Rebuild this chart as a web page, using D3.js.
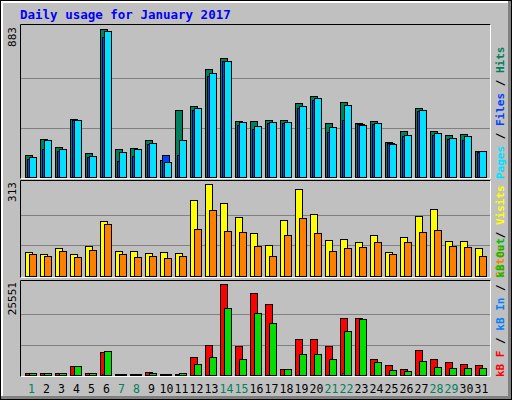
<!DOCTYPE html>
<html>
<head>
<meta charset="utf-8">
<script src="https://cdn.jsdelivr.net/npm/d3@7"></script>
<style>
  body { margin: 0; background: #fff; }
  svg { display: block; font-family: "DejaVu Sans Mono", monospace; }
</style>
</head>
<body>
<svg id="chart" width="512" height="400"></svg>
<script>
// values
var days = d3.range(1, 32);
var weekendDays = [1, 7, 8, 14, 15, 21, 22, 28, 29];
var hits  = [130,226,178,346,142,883,166,172,220,100,400,424,647,707,334,334,340,340,442,484,322,448,322,334,208,274,412,274,250,256,154];
var files = [118,220,166,340,124,869,148,166,202,88,220,412,623,695,328,304,328,328,424,472,298,430,310,322,196,250,400,262,232,244,154];
var pages = [106,166,154,340,118,833,94,124,196,130,130,400,605,695,310,286,322,322,412,461,268,340,316,316,202,244,394,250,226,220,148];
var visits = [82,75,95,75,102,187,85,85,78,82,78,259,313,248,201,146,105,191,296,211,122,126,116,139,82,133,204,228,119,119,95];
var sites  = [75,68,85,65,88,177,75,65,68,61,68,160,225,153,150,102,68,139,197,146,85,95,99,116,75,116,150,156,102,99,68];
var kbF   = [562,562,562,2527,562,6458,281,281,842,281,281,5054,8424,25551,8143,23026,19937,1685,10109,10109,8143,16006,16006,4493,2808,1685,7020,4493,3650,3089,2808];
var kbIn  = [0,0,0,0,0,400,0,0,0,0,0,0,0,0,0,0,0,0,0,0,0,500,0,0,0,0,0,0,0,0,0];
var kbOut = [562,562,562,2527,562,6739,281,281,562,281,562,3089,5054,18814,4493,17410,14602,1685,5897,5897,4493,12355,15725,3650,1404,1123,3931,2246,1966,1966,1966];

var svg = d3.select("#chart");

// bevelled outer frame
svg.append("rect").attr("width", 512).attr("height", 400).attr("fill", "#000");
svg.append("rect").attr("x", 1).attr("y", 1).attr("width", 510).attr("height", 398).attr("fill", "#808080");
svg.append("rect").attr("x", 1).attr("y", 1).attr("width", 507).attr("height", 395).attr("fill", "#fff");
svg.append("rect").attr("x", 3).attr("y", 3).attr("width", 505).attr("height", 393).attr("fill", "#c0c0c0");

svg.append("text").attr("x", 20).attr("y", 19)
  .attr("fill", "#0000ff").attr("font-size", 12.5).attr("font-weight", "bold")
  .text("Daily usage for January 2017");

var x = d3.scaleBand().domain(days).range([21, 486]).paddingInner(0).paddingOuter(0);

function panel(top, bottom, maxTop, maxVal, series, maxLabel, legend) {
  svg.append("rect").attr("x", 20).attr("y", top).attr("width", 471).attr("height", bottom - top)
    .attr("fill", "#c0c0c0");
  var y = d3.scaleLinear().domain([0, maxVal]).range([bottom - 2, maxTop]);
  var h = bottom - 2 - maxTop;
  [1 / 3, 2 / 3].forEach(function (f) {
    var gy = Math.round(bottom - 2 - h * f) + 0.5;
    svg.append("line").attr("x1", 21).attr("x2", 490).attr("y1", gy).attr("y2", gy)
      .attr("stroke", "#808080").attr("stroke-width", 1);
  });
  series.forEach(function (s) {
    svg.append("g").selectAll("rect").data(s.values).enter().append("rect")
      .attr("x", function (d, i) { return x(days[i]) + 4.5 + s.off; })
      .attr("y", function (d) { return Math.round(y(d)) + 0.5; })
      .attr("width", s.w)
      .attr("height", function (d) { return Math.max(0, bottom - 2 - Math.round(y(d))); })
      .attr("fill", s.color).attr("stroke", "#000").attr("stroke-width", s.stroke);
  });
  // inset border
  svg.append("path").attr("d", "M20.5," + (bottom) + "V" + (top + 0.5) + "H490.5")
    .attr("fill", "none").attr("stroke", "#000");
  svg.append("path").attr("d", "M20.5," + (bottom - 0.5) + "H490.5V" + (top + 0.5))
    .attr("fill", "none").attr("stroke", "#fff");

  svg.append("text").attr("transform", "translate(16," + (maxTop - 2) + ") rotate(-90)")
    .attr("text-anchor", "end").attr("font-size", 11).attr("fill", "#000").text(maxLabel);

  var t = svg.append("text").attr("transform", "translate(504," + bottom + ") rotate(-90)")
    .attr("font-size", 11).attr("font-weight", "bold");
  legend.forEach(function (l, i) {
    if (i > 0) t.append("tspan").attr("fill", "#000").text(" / ");
    t.append("tspan").attr("fill", l[1]).text(l[0]);
  });
}

panel(24, 179, 29, 883, [
  { values: hits, color: "#00805c", off: 0, w: 7, stroke: 1 },
  { values: pages, color: "#0040ff", off: 2, w: 7, stroke: 1 },
  { values: files, color: "#00e0ff", off: 4, w: 7, stroke: 1 }
], "883", [["Pages", "#00e0ff"], ["Files", "#0040ff"], ["Hits", "#00805c"]]);

panel(180, 278, 184, 313, [
  { values: visits, color: "#ffff00", off: 0, w: 7, stroke: 1 },
  { values: sites, color: "#ff8000", off: 4, w: 7, stroke: 1 }
], "313", [["Sites", "#ff8000"], ["Visits", "#ffff00"]]);

panel(280, 377, 284, 25551, [
  { values: kbF, color: "#ff0000", off: 0, w: 7, stroke: 1 },
  { values: kbIn, color: "#0080ff", off: 2, w: 2, stroke: 0.5 },
  { values: kbOut, color: "#00e000", off: 4, w: 7, stroke: 1 }
], "25551", [["kB F", "#ff0000"], ["kB In", "#0080ff"], ["kB Out", "#00c000"]]);

svg.append("g").selectAll("text").data(days).enter().append("text")
  .attr("x", function (d) { return x(d) + x.bandwidth() / 2 + 3; })
  .attr("y", 393).attr("text-anchor", "middle").attr("font-size", 11.5)
  .attr("fill", function (d) { return weekendDays.indexOf(d) >= 0 ? "#00805c" : "#000"; })
  .text(function (d) { return d; });
</script>
</body>
</html>
